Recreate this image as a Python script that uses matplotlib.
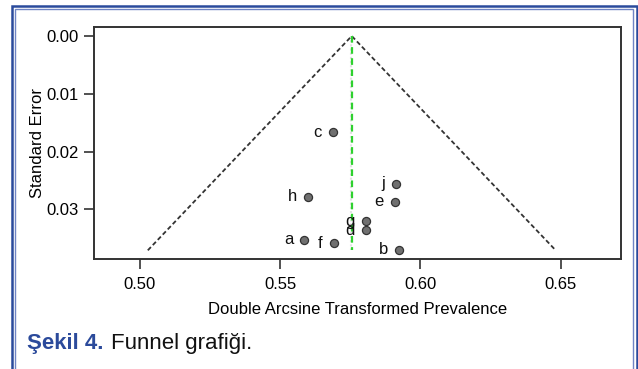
import matplotlib
matplotlib.use("Agg")
import matplotlib.pyplot as plt
from matplotlib.lines import Line2D

plt.rcParams['font.family'] = ['Liberation Sans', 'DejaVu Sans']

# Data
study_labels = ['a', 'b', 'c', 'd', 'e', 'f', 'g', 'h', 'j']
effect = [0.5586, 0.5923, 0.5687, 0.5805, 0.5908, 0.5690, 0.5805, 0.5599, 0.5912]
std_err = [0.0353, 0.0370, 0.0167, 0.0336, 0.0287, 0.0359, 0.0321, 0.0278, 0.0256]
pooled = 0.5755
se_max = 0.0371
x_ticks = [0.50, 0.55, 0.60, 0.65]
y_ticks = [0.00, 0.01, 0.02, 0.03]

W, H = 638, 369
fig = plt.figure(figsize=(W / 100, H / 100), dpi=100)
ax = fig.add_axes([94 / W, 1 - 259 / H, (621 - 94) / W, (259 - 27) / H])

# funnel
ax.plot([pooled - 1.96 * se_max, pooled, pooled + 1.96 * se_max], [se_max, 0, se_max],
        color='#333333', lw=1.3, ls=(0, (2.5, 1.5)), zorder=2)
ax.plot([pooled - 0.0004, pooled - 0.0004], [0, se_max], color='#e2e2e2', lw=1.5, ls=(0, (1, 1)), zorder=1)
ax.plot([pooled, pooled], [0, se_max], color='#2fd12f', lw=1.6, ls=(0, (3, 2)), zorder=2)

ax.scatter(effect, std_err, s=34, color='#707070', edgecolor='#333333', linewidth=0.9, zorder=3)
for lab, x, y in zip(study_labels, effect, std_err):
    ax.annotate(lab, (x, y), xytext=(-8, 0), textcoords='offset points',
                ha='right', va='center', fontsize=12, color='#111111')

ax.set_xlim(0.4836, 0.6715)
ax.set_ylim(0.0386, -0.00156)
ax.set_xticks(x_ticks)
ax.set_xticklabels([f'{v:.2f}' for v in x_ticks])
ax.set_yticks(y_ticks)
ax.set_yticklabels([f'{v:.2f}' for v in y_ticks])
ax.tick_params(direction='out', length=7, width=1.2, color='#333333', labelsize=12, pad=4)
ax.tick_params(axis='x', pad=6)
for s in ax.spines.values():
    s.set_color('#333333')
    s.set_linewidth(1.4)
ax.set_xlabel('Double Arcsine Transformed Prevalence', fontsize=12, labelpad=7)
ax.set_ylabel('Standard Error', fontsize=12, labelpad=1)

# caption
fig.text(27 / W, 1 - 343 / H, 'Şekil 4.', fontsize=16, fontweight='bold', color='#2b4a9b',
         ha='left', va='center')
fig.text(111 / W, 1 - 343 / H, 'Funnel grafiği.', fontsize=16, color='#111111',
         ha='left', va='center')

# border frame (open at bottom)
def frame(x0, x1, ytop, color, lw):
    fig.add_artist(Line2D([x0 / W, x0 / W, x1 / W, x1 / W],
                          [0, 1 - ytop / H, 1 - ytop / H, 0],
                          transform=fig.transFigure, color=color, lw=lw,
                          solid_joinstyle='miter'))

frame(12, 636.5, 5.5, '#2a4a9c', 1.8)
frame(15, 632.8, 9.0, '#6f84c4', 1.0)

fig.savefig('out.png', dpi=100)
